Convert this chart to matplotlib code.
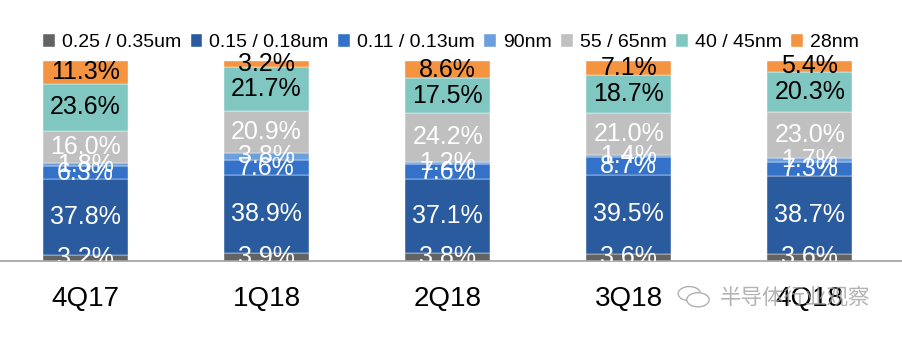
import matplotlib
matplotlib.use('Agg')
import matplotlib.pyplot as plt
from matplotlib.patches import Ellipse
import numpy as np

plt.rcParams['font.family'] = ['Liberation Sans', 'DejaVu Sans']

quarters = ['4Q17', '1Q18', '2Q18', '3Q18', '4Q18']
nodes = ['0.25 / 0.35um', '0.15 / 0.18um', '0.11 / 0.13um', '90nm',
         '55 / 65nm', '40 / 45nm', '28nm']

# share of revenue per node, bottom to top
n025 = [3.2, 3.9, 3.8, 3.6, 3.6]
n015 = [37.8, 38.9, 37.1, 39.5, 38.7]
n011 = [6.3, 7.6, 7.6, 8.7, 7.3]
n90 = [1.8, 3.8, 1.2, 1.4, 1.7]
n55 = [16.0, 20.9, 24.2, 21.0, 23.0]
n40 = [23.6, 21.7, 17.5, 18.7, 20.3]
n28 = [11.3, 3.2, 8.6, 7.1, 5.4]

series = [n025, n015, n011, n90, n55, n40, n28]
colors = ['#636363', '#2A5B9E', '#3372C8', '#6C9FDE', '#C0C0C0', '#80C7C1', '#F49340']
text_colors = ['white', 'white', 'white', 'white', 'white', 'black', 'black']

fig = plt.figure(figsize=(9.02, 3.42), dpi=100)
# axes runs a bit above 100% so top labels are not clipped, only the bottom ones
ax = fig.add_axes([0.0, 0.237, 1.0, 0.643])

x = np.arange(len(quarters))
bottom = np.zeros(len(quarters))
for vals, c, tc, name in zip(series, colors, text_colors, nodes):
    vals = np.array(vals)
    ax.bar(x, vals, bottom=bottom, width=0.47, color=c, label=name,
           edgecolor='white', linewidth=0.3)
    for xi, b, v in zip(x, bottom, vals):
        ax.text(xi, b + v / 2, f'{v:.1f}%', ha='center', va='center',
                fontsize=18, color=tc, clip_on=True)
    bottom += vals

ax.set_xlim(-0.472, 4.509)
ax.set_ylim(0, 110)
ax.set_yticks([])
ax.set_xticks(x)
ax.set_xticklabels(quarters, fontsize=20)
ax.tick_params(axis='x', length=0, pad=18)
for s in ['top', 'right', 'left']:
    ax.spines[s].set_visible(False)
ax.spines['bottom'].set_color('#A0A0A0')
ax.spines['bottom'].set_linewidth(1.2)

handles, labels = ax.get_legend_handles_labels()
fig.legend(handles, labels, loc='center', bbox_to_anchor=(0.5, 0.875), ncol=7,
           frameon=False, fontsize=14, handlelength=0.6, handleheight=0.6,
           handletextpad=0.35, columnspacing=0.5)

# watermark
fig.text(0.798, 0.129, '\u534a\u5bfc\u4f53\u884c\u4e1a\u89c2\u5bdf', fontsize=15.5,
         color='#A0A0A0', alpha=0.8, va='center', ha='left',
         family=['Noto Sans CJK SC', 'DejaVu Sans'])
ax2 = fig.add_axes([0.749, 0.095, 0.04, 0.075])
ax2.axis('off')
ax2.set_xlim(0, 1)
ax2.set_ylim(0, 1)
ax2.add_patch(Ellipse((0.38, 0.62), 0.62, 0.55, fill=False, ec='#B0B0B0', lw=1))
ax2.add_patch(Ellipse((0.62, 0.38), 0.62, 0.55, fc='white', ec='#B0B0B0', lw=1))

fig.savefig('out.png', dpi=100)
